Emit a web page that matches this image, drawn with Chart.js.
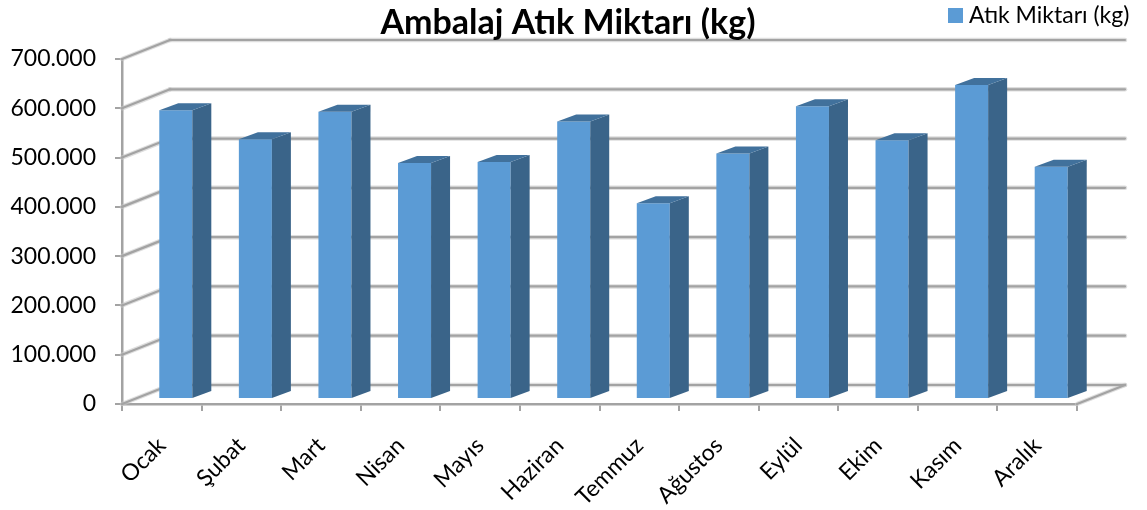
<!DOCTYPE html>
<html lang="tr">
<head>
<meta charset="utf-8">
<title>Ambalaj Atık Miktarı (kg)</title>
<script src="https://cdn.jsdelivr.net/npm/chart.js@4.4.1/dist/chart.umd.min.js"></script>
<style>
  html, body { margin: 0; padding: 0; background: #fff; }
  #wrap { width: 1147px; height: 510px; position: relative; }
</style>
</head>
<body>
<div id="wrap"><canvas id="chart" width="1147" height="510"></canvas></div>
<script>
// Data
const months = ['Ocak', 'Şubat', 'Mart', 'Nisan', 'Mayıs', 'Haziran', 'Temmuz', 'Ağustos', 'Eylül', 'Ekim', 'Kasım', 'Aralık'];
const wasteKg = [586000, 527000, 583000, 479000, 481000, 563000, 397000, 498000, 594000, 525000, 637000, 471000];
const seriesName = 'Atık Miktarı (kg)';
const chartTitle = 'Ambalaj Atık Miktarı (kg)';
const yMax = 700000;
const yStep = 100000;

// Colors
const frontColor = '#5b9bd5';
const sideColor = '#3a6489';
const topColor = '#41719c';
const gridColor = '#a3a3a3';
const gridHalo = 'rgba(200, 200, 200, 0.6)';

// 3D offsets (walls, bar front plane, bar depth)
const wallDX = 48, wallDY = -19;
const barDX = 14, barDY = -5;
const depthDX = 19, depthDY = -7;

const fmt = v => String(v).replace(/\B(?=(\d{3})+(?!\d))/g, '.');

function line(ctx, x1, y1, x2, y2) {
    ctx.beginPath();
    ctx.moveTo(x1, y1);
    ctx.lineTo(x2, y2);
    ctx.stroke();
}

const threeD = {
    id: 'threeD',
    beforeDatasetsDraw(chart) {
        const { ctx, chartArea: a, scales: { y } } = chart;
        ctx.save();
        ctx.lineCap = 'round';
        for (let pass = 0; pass < 2; pass++) {
            ctx.strokeStyle = pass === 0 ? gridHalo : gridColor;
            ctx.lineWidth = pass === 0 ? 4.5 : 2.2;
            y.ticks.forEach(t => {
                const yf = y.getPixelForValue(t.value);
                line(ctx, a.left, yf, a.left + wallDX, yf + wallDY);
                line(ctx, a.left + wallDX, yf + wallDY, a.right + wallDX, yf + wallDY);
            });
            // floor right edge
            line(ctx, a.right, a.bottom, a.right + wallDX, a.bottom + wallDY);
        }
        ctx.restore();
    },
    beforeDatasetDraw(chart) {
        chart.ctx.save();
        chart.ctx.translate(barDX, barDY);
    },
    afterDatasetDraw(chart, args) {
        const ctx = chart.ctx;
        args.meta.data.forEach(bar => {
            const { x, y, base, width } = bar.getProps(['x', 'y', 'base', 'width'], true);
            const l = x - width / 2, r = x + width / 2;
            // side face
            ctx.fillStyle = sideColor;
            ctx.beginPath();
            ctx.moveTo(r, y);
            ctx.lineTo(r + depthDX, y + depthDY);
            ctx.lineTo(r + depthDX, base + depthDY);
            ctx.lineTo(r, base);
            ctx.closePath();
            ctx.fill();
            // top face
            ctx.fillStyle = topColor;
            ctx.beginPath();
            ctx.moveTo(l, y);
            ctx.lineTo(l + depthDX, y + depthDY);
            ctx.lineTo(r + depthDX, y + depthDY);
            ctx.lineTo(r, y);
            ctx.closePath();
            ctx.fill();
        });
        ctx.restore();
    },
    afterDraw(chart) {
        const ctx = chart.ctx;
        ctx.save();
        ctx.fillStyle = '#000';
        ctx.font = 'bold 34px Lato';
        ctx.textAlign = 'center';
        ctx.textBaseline = 'alphabetic';
        ctx.fillText(chartTitle, 568, 34);
        // legend
        ctx.fillStyle = frontColor;
        ctx.fillRect(948, 8, 15, 15);
        ctx.fillStyle = '#000';
        ctx.font = '23px Lato';
        ctx.textAlign = 'left';
        ctx.fillText(seriesName, 969, 23);
        ctx.restore();
    }
};

new Chart(document.getElementById('chart'), {
    type: 'bar',
    data: {
        labels: months,
        datasets: [{
            label: seriesName,
            data: wasteKg,
            backgroundColor: frontColor,
            borderWidth: 0,
            categoryPercentage: 1,
            barPercentage: 0.415,
            clip: false
        }]
    },
    options: {
        responsive: false,
        animation: false,
        layout: { padding: { top: 59, right: 70, left: 0, bottom: 0 } },
        plugins: {
            legend: { display: false },
            title: { display: false },
            tooltip: { enabled: false }
        },
        scales: {
            x: {
                grid: { drawOnChartArea: false, tickLength: 7, color: gridColor, lineWidth: 2, offset: true },
                border: { color: gridColor, width: 2.5 },
                ticks: { color: '#000', font: { family: 'Lato', size: 23 }, minRotation: 45, maxRotation: 45, padding: 21 },
                afterFit: s => { s.height = 106; }
            },
            y: {
                min: 0,
                max: yMax,
                grid: { drawOnChartArea: false, tickLength: 7, color: gridColor, lineWidth: 2 },
                border: { color: gridColor, width: 2.5 },
                ticks: { stepSize: yStep, color: '#000', font: { family: 'Lato', size: 23 }, padding: 19, callback: v => fmt(v) },
                afterFit: s => { s.width = 122; }
            }
        }
    },
    plugins: [threeD]
});
</script>
</body>
</html>
